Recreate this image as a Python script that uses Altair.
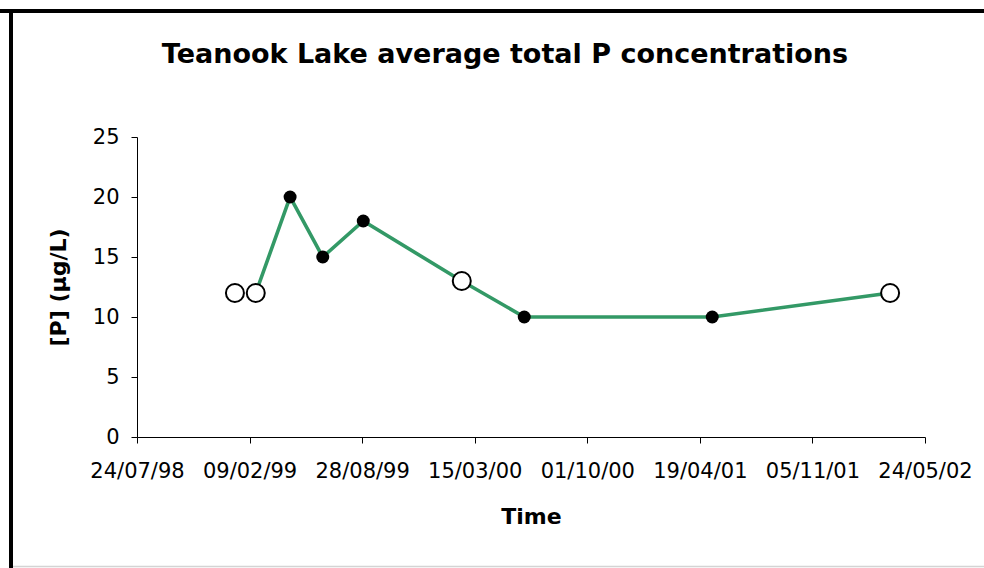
import altair as alt
import pandas as pd

# ---- data ----
dates = ["1999-01-14", "1999-02-20", "1999-04-22", "1999-06-19", "1999-08-30",
         "2000-02-21", "2000-06-11", "2001-05-11", "2002-03-23"]
conc = [12, 12, 20, 15, 18, 13, 10, 10, 12]
on_line = [False, True, True, True, True, True, True, True, True]
open_marker = [True, True, False, False, False, True, False, False, True]
tick_dates = ["1998-07-24", "1999-02-09", "1999-08-28", "2000-03-15",
              "2000-10-01", "2001-04-19", "2001-11-05", "2002-05-24"]
y_ticks = [0, 5, 10, 15, 20, 25]

df = pd.DataFrame({"date": dates, "conc": conc, "line": on_line, "open": open_marker})


def dt(s):
    y, m, d = (int(v) for v in s.split("-"))
    return alt.DateTime(year=y, month=m, date=d, utc=True)


FONT = "DejaVu Sans"
W, H = 788, 300
PL, PT = 137, 137

x_enc = alt.X(
    "date:T",
    scale=alt.Scale(type="utc", domain=[dt(tick_dates[0]), dt(tick_dates[-1])]),
    axis=alt.Axis(
        title="Time",
        values=[dt(t) for t in tick_dates],
        labelExpr="utcFormat(datum.value, '%d/%m/%y')",
        grid=False,
        labelOverlap=False,
        labelFlush=False,
        labelBound=False,
        labelPadding=17,
        titlePadding=25,
    ),
)
y_enc = alt.Y(
    "conc:Q",
    scale=alt.Scale(domain=[0, 25]),
    axis=alt.Axis(title="[P] (µg/L)", values=y_ticks, grid=False,
                  labelOverlap=False, labelFlush=False,
                  labelPadding=12, titlePadding=22),
)

base = alt.Chart(df)

line = base.transform_filter("datum.line").mark_line(
    color="#339966", strokeWidth=3.6
).encode(x=x_enc, y=y_enc)

filled = base.transform_filter("!datum.open").mark_point(
    shape="circle", filled=True, color="black", size=169, opacity=1
).encode(x=x_enc, y=y_enc)

opened = base.transform_filter("datum.open").mark_point(
    shape="circle", filled=True, fill="white", stroke="black", strokeWidth=2,
    size=324, opacity=1
).encode(x=x_enc, y=y_enc)

one = alt.Chart(pd.DataFrame({"k": [0]}))
frame_top = one.mark_rule(color="black", strokeWidth=4).encode(
    x=alt.value(-PL - 2), x2=alt.value(984 - PL), y=alt.value(11 - PT))
frame_left = one.mark_rule(color="black", strokeWidth=4).encode(
    x=alt.value(11 - PL), y=alt.value(9 - PT), y2=alt.value(568 - PT))
frame_bottom = one.mark_rule(color="#d4d4d4", strokeWidth=1.5).encode(
    x=alt.value(13 - PL), x2=alt.value(984 - PL), y=alt.value(566.5 - PT))

chart = alt.layer(line, opened, filled, frame_top, frame_left, frame_bottom).properties(
    width=W,
    height=H,
    autosize=alt.AutoSizeParams(type="none"),
    padding={"left": PL, "top": PT, "right": 984 - PL - W, "bottom": 568 - PT - H},
    background="white",
    title=alt.TitleParams(
        text="Teanook Lake average total P concentrations",
        font=FONT, fontSize=27, fontWeight="bold", color="black",
        anchor="middle", frame="group", dx=-26, baseline="alphabetic", offset=-83,
    ),
).configure_view(stroke=None).configure_axis(
    labelFont=FONT, labelFontSize=21, labelColor="black",
    titleFont=FONT, titleFontSize=22, titleFontWeight="bold", titleColor="black",
    domainColor="black", tickColor="black", domainWidth=1, tickWidth=1, tickSize=6,
)

chart.save("out.html", embed_options={"renderer": "svg", "actions": False})
